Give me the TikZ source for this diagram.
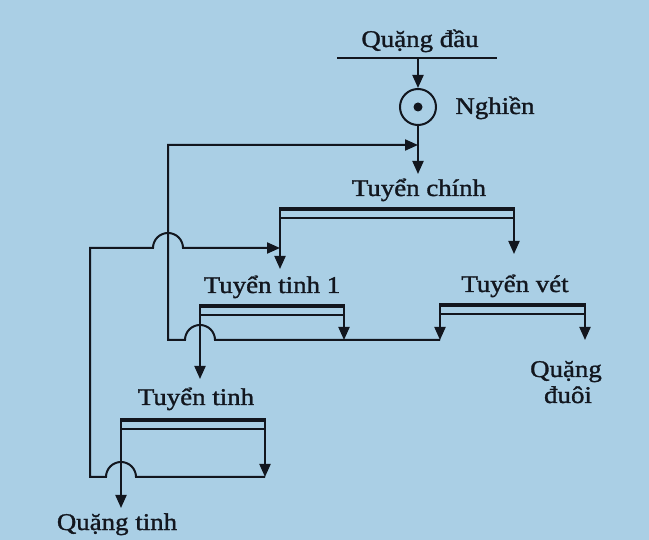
\documentclass[tikz,border=0pt]{standalone}
\usepackage{fontspec}
\setmainfont{Liberation Serif}[FakeStretch=1.12,FakeBold=1.3]
\usetikzlibrary{arrows.meta}
\definecolor{paper}{RGB}{170,207,229}
\definecolor{ink}{RGB}{18,22,30}
\begin{document}
\begin{tikzpicture}[x=1pt,y=-1pt,
  thin/.style={line width=2pt,draw=ink},
  bar/.style={line width=4.5pt,draw=ink},
  flow/.style={thin,-{Triangle[length=13pt,width=11pt]}},
  lbl/.style={text=ink,font=\fontsize{24}{26}\selectfont,inner sep=0pt,anchor=base}]
\fill[paper] (0,0) rectangle (649,540);
\useasboundingbox (0,0) rectangle (649,540);

% labels
\node[lbl] (feedtxt) at (420,47) {Quặng đầu};
\node[lbl] (crushtxt) at (495,114) {Nghiền};
\node[lbl] (maintxt) at (419,196) {Tuyển chính};
\node[lbl] (clean1txt) at (272,293) {Tuyển tinh 1};
\node[lbl] (scavtxt) at (515,292) {Tuyển vét};
\node[lbl] (tail1txt) at (566,377) {Quặng};
\node[lbl] (tail2txt) at (568,403) {đuôi};
\node[lbl] (clean2txt) at (196,405) {Tuyển tinh};
\node[lbl] (conctxt) at (117,530) {Quặng tinh};

% feed line and crusher
\coordinate (feedL) at (337,58);
\coordinate (feedR) at (497,58);
\coordinate (feedP) at (418,58);
\draw[thin] (feedL) -- (feedR);
\node[thin,circle,minimum size=36pt,inner sep=0pt] (crusher) at (418,107) {};
\fill[ink] (crusher.center) circle (4.5pt);
\draw[flow] (feedP) -- (crusher.north);
\coordinate (mainIn) at (418,174);
\draw[flow] (crusher.south) -- (mainIn);

% separation units: thick bar on top, thin line below, left and right outlets
\coordinate (mainL) at (280,209);  \coordinate (mainR) at (514,209);
\coordinate (c1L) at (200,306);    \coordinate (c1R) at (344,306);
\coordinate (scL) at (440,305);    \coordinate (scR) at (585,305);
\coordinate (c2L) at (121,420);    \coordinate (c2R) at (265,420);
\foreach \a/\b in {mainL/mainR,c1L/c1R,scL/scR,c2L/c2R}{
  \draw[bar] ([xshift=-1pt]\a) -- ([xshift=1pt]\b);
  \draw[thin] ([yshift=-9pt]\a) -- ([yshift=-9pt]\b);
}

% outlet arrows
\coordinate (mainLout) at (280,269);
\coordinate (mainRout) at (514,254);
\coordinate (c1Lout) at (200,379);
\coordinate (c1Rout) at (344,340);
\coordinate (scLout) at (440,340);
\coordinate (scRout) at (585,340);
\coordinate (c2Lout) at (121,508);
\coordinate (c2Rout) at (265,477);
\draw[flow] (mainL) -- (mainLout);
\draw[flow] (mainR) -- (mainRout);
\draw[flow] (c1L) -- (c1Lout);
\draw[flow] (c1R) -- (c1Rout);
\draw[flow] (scL) -- (scLout);
\draw[flow] (scR) -- (scRout);
\draw[flow] (c2L) -- (c2Lout);
\draw[flow] (c2R) -- (c2Rout);

% middlings return to the main flotation feed
\coordinate (retIn) at (418,145);
\draw[flow] (scLout) -- (215,340)
  .. controls (215,331.7) and (208.3,325) .. (200,325)
  .. controls (191.7,325) and (185,331.7) .. (185,340)
  -- (168,340) -- (168,145) -- (retIn);

% cleaner tailings back to the main flotation
\coordinate (mainFeed) at (280,248);
\draw[flow] (c2Rout) -- (136,477)
  .. controls (136,468.7) and (129.3,462) .. (121,462)
  .. controls (112.7,462) and (106,468.7) .. (106,477)
  -- (90,477) -- (90,248) -- (153,248)
  .. controls (153,239.7) and (159.7,233) .. (168,233)
  .. controls (176.3,233) and (183,239.7) .. (183,248)
  -- (mainFeed);
\end{tikzpicture}
\end{document}
